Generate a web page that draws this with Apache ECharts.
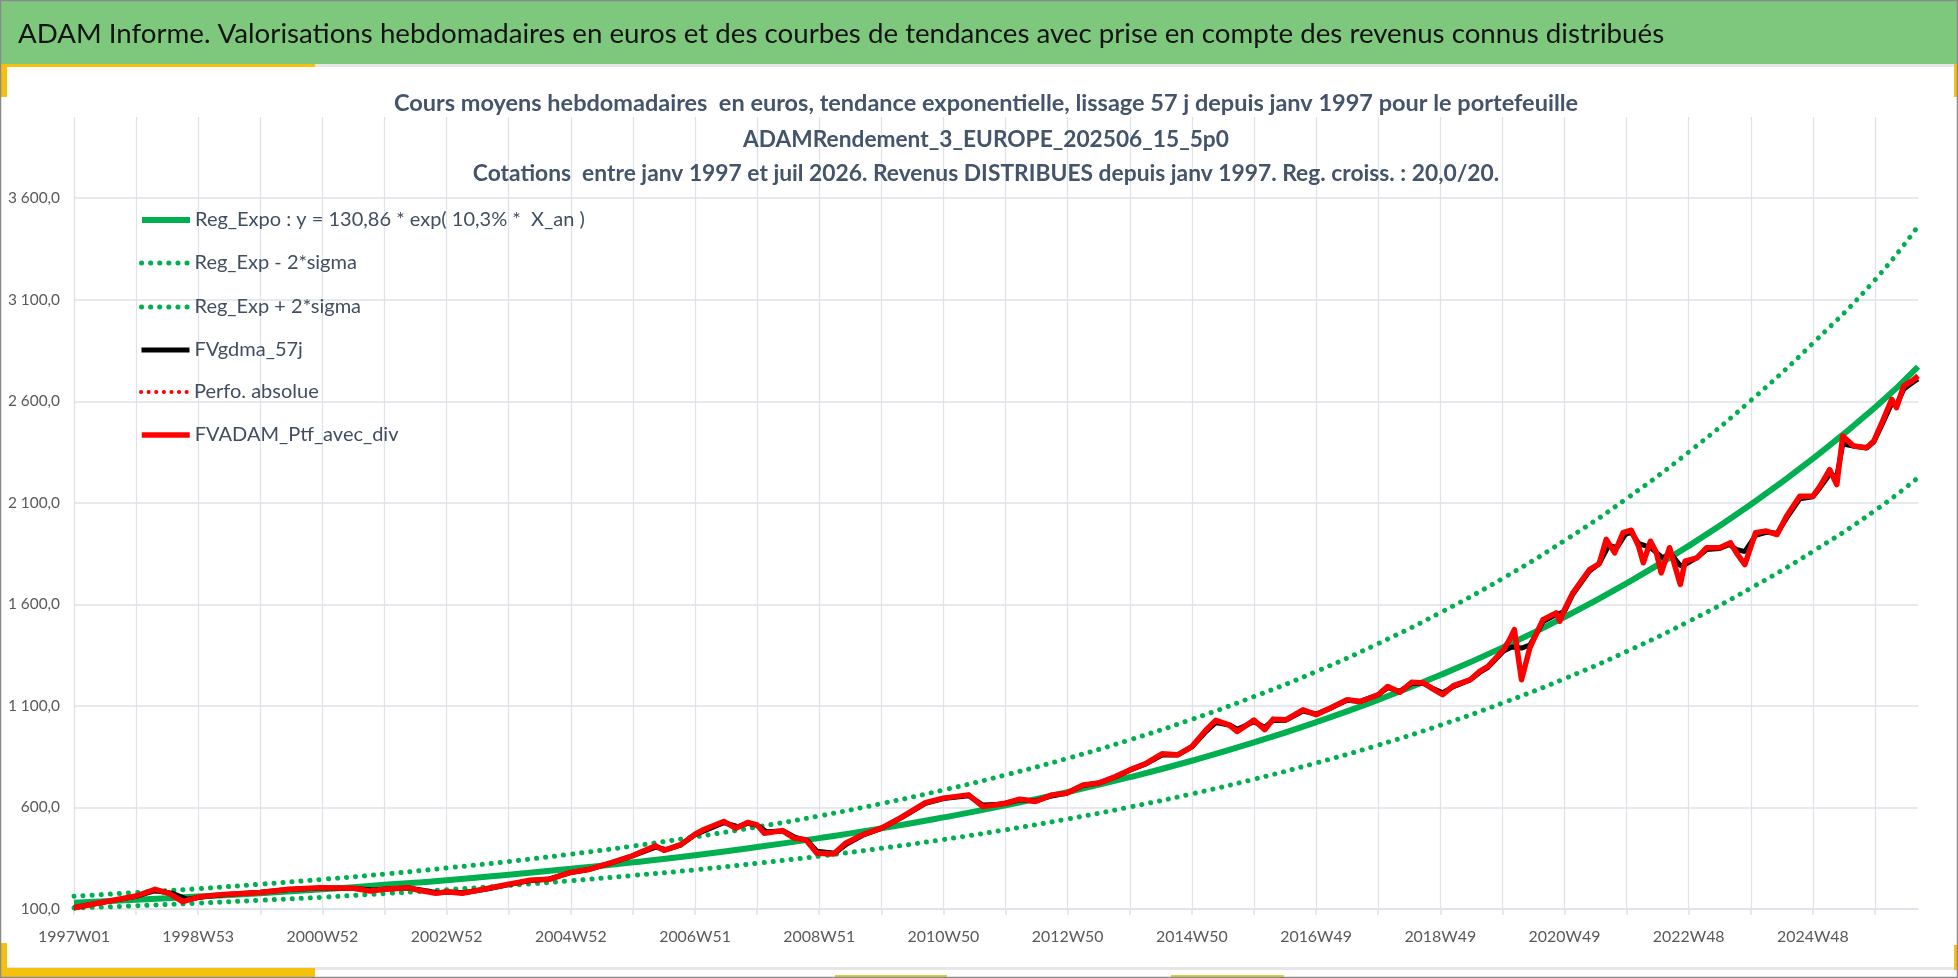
<html>
<head>
<meta charset="utf-8">
<title>ADAM Informe</title>
<script src="https://cdn.jsdelivr.net/npm/echarts@6.0.0/dist/echarts.min.js"></script>
<style>
html,body{margin:0;padding:0;width:100%;height:100%;overflow:hidden;background:#fff;}
#main{position:absolute;left:0;top:0;width:1958px;height:978px;}
</style>
</head>
<body>
<div id="main"></div>
<script type="text/javascript">
// libellés de l'axe des x (une étiquette toutes les 104 semaines)
var weekLabels = ['1997W01', '1998W53', '2000W52', '2002W52', '2004W52', '2006W51', '2008W51',
  '2010W50', '2012W50', '2014W50', '2016W49', '2018W49', '2020W49', '2022W48', '2024W48'];
var lastWeek = 1544;

// tendance exponentielle et bandes +/- 2 sigma (une valeur par an)
var trendWeeks = [0, 52, 104, 156, 208, 260, 312, 364, 416, 468, 520, 572, 624, 676, 728, 780,
  832, 884, 936, 988, 1040, 1092, 1144, 1196, 1248, 1300, 1352, 1404, 1456, 1508, 1544];
var regExpo = [131, 145, 161, 178, 197, 219, 242, 269, 298, 330, 365, 405, 449, 497, 551, 610,
  676, 749, 830, 920, 1020, 1130, 1252, 1387, 1537, 1704, 1888, 2092, 2318, 2569, 2770];
var regMinus = [105, 116, 129, 143, 158, 176, 195, 216, 239, 265, 293, 325, 360, 399, 442, 490,
  543, 602, 667, 739, 819, 907, 1005, 1114, 1234, 1368, 1516, 1680, 1861, 2062, 2224];
var regPlus = [163, 181, 200, 222, 246, 272, 302, 334, 370, 410, 455, 504, 558, 619, 686, 760,
  842, 933, 1034, 1146, 1269, 1407, 1559, 1727, 1914, 2121, 2350, 2604, 2886, 3198, 3462];

// FVADAM_Ptf_avec_div
var ptfWeeks = [0, 22, 52, 68, 80, 91, 104, 125, 156, 180, 207, 234, 248, 260, 279, 289, 303, 312, 325, 347,
  364, 381, 398, 415, 432, 450, 467, 487, 494, 508, 520, 527, 544, 554, 564, 572, 578, 593, 603, 613,
  622, 636, 646, 660, 676, 693, 713, 728, 749, 761, 772, 780, 792, 805, 819, 831, 845, 858, 872, 884,
  898, 911, 924, 936, 948, 956, 967, 974, 988, 997, 1004, 1015, 1029, 1040, 1052, 1066, 1077, 1092, 1100, 1110,
  1120, 1130, 1138, 1146, 1155, 1169, 1177, 1184, 1197, 1202, 1206, 1212, 1219, 1226, 1230, 1241, 1244, 1248, 1255, 1269,
  1277, 1283, 1290, 1297, 1304, 1310, 1314, 1320, 1325, 1329, 1336, 1345, 1349, 1359, 1367, 1378, 1387, 1392, 1399, 1408,
  1417, 1426, 1434, 1445, 1456, 1462, 1470, 1476, 1481, 1490, 1501, 1507, 1515, 1522, 1526, 1532, 1539, 1544];
var ptfValues = [106, 131, 164, 197, 176, 136, 159, 172, 181, 197, 205, 202, 189, 197, 205, 192, 177, 185, 177, 202,
  222, 241, 246, 279, 296, 328, 361, 411, 389, 417, 468, 490, 531, 498, 526, 514, 473, 486, 449, 440,
  375, 371, 424, 465, 498, 552, 624, 646, 662, 604, 613, 621, 641, 629, 662, 670, 711, 720, 752, 785,
  818, 864, 859, 900, 983, 1029, 1007, 974, 1030, 983, 1035, 1032, 1081, 1057, 1090, 1131, 1122, 1155, 1196, 1167,
  1216, 1213, 1183, 1155, 1200, 1229, 1270, 1295, 1377, 1426, 1476, 1229, 1386, 1476, 1525, 1558, 1517, 1574, 1657, 1771,
  1800, 1920, 1854, 1953, 1965, 1887, 1805, 1911, 1854, 1755, 1879, 1698, 1813, 1829, 1879, 1879, 1903, 1854, 1796, 1953,
  1961, 1944, 2035, 2133, 2133, 2182, 2264, 2190, 2429, 2380, 2371, 2404, 2511, 2610, 2569, 2676, 2700, 2725];

// FVgdma_57j (moyenne lissée)
var gdmaWeeks = [0, 26, 52, 68, 82, 95, 110, 130, 156, 180, 208, 235, 250, 262, 280, 292, 304, 315, 326, 347,
  364, 381, 398, 415, 432, 450, 467, 487, 496, 508, 520, 544, 556, 564, 572, 580, 594, 604, 614, 622,
  637, 647, 660, 676, 693, 713, 728, 749, 761, 772, 780, 792, 805, 819, 831, 845, 858, 872, 884, 898,
  911, 924, 936, 948, 956, 968, 974, 988, 997, 1004, 1015, 1029, 1040, 1052, 1066, 1077, 1092, 1100, 1110, 1120,
  1130, 1138, 1146, 1155, 1169, 1177, 1184, 1197, 1204, 1212, 1219, 1226, 1230, 1241, 1248, 1255, 1269, 1277, 1285, 1292,
  1299, 1304, 1310, 1320, 1330, 1337, 1345, 1350, 1359, 1367, 1378, 1386, 1392, 1399, 1408, 1417, 1426, 1434, 1445, 1456,
  1462, 1470, 1476, 1481, 1490, 1501, 1507, 1515, 1522, 1526, 1532, 1539, 1544];
var gdmaValues = [106, 135, 162, 190, 178, 148, 162, 172, 182, 196, 203, 201, 193, 198, 203, 193, 180, 184, 180, 200,
  220, 239, 248, 278, 296, 327, 360, 405, 392, 415, 466, 525, 505, 522, 512, 480, 484, 452, 438, 385,
  375, 420, 462, 497, 550, 620, 644, 658, 612, 614, 621, 638, 632, 658, 670, 708, 720, 750, 783, 816,
  858, 858, 898, 975, 1018, 1005, 985, 1022, 995, 1028, 1030, 1075, 1060, 1088, 1128, 1122, 1155, 1190, 1172, 1210,
  1210, 1185, 1165, 1195, 1228, 1265, 1290, 1370, 1390, 1385, 1400, 1470, 1515, 1550, 1565, 1650, 1765, 1800, 1890, 1880,
  1945, 1955, 1900, 1880, 1830, 1850, 1790, 1800, 1830, 1870, 1875, 1895, 1870, 1860, 1940, 1955, 1950, 2025, 2120, 2130,
  2175, 2240, 2230, 2390, 2380, 2370, 2400, 2500, 2590, 2580, 2660, 2690, 2710];

var seriesNames = ['Reg_Expo : y = 130,86 * exp( 10,3% *  X_an )', 'Reg_Exp - 2*sigma', 'Reg_Exp + 2*sigma',
  'FVgdma_57j', 'Perfo. absolue', 'FVADAM_Ptf_avec_div'];

var bannerText = 'ADAM Informe. Valorisations hebdomadaires en euros et des courbes de tendances avec prise en compte des revenus connus distribués';
var titleLines = [
  'Cours moyens hebdomadaires  en euros, tendance exponentielle, lissage 57 j depuis janv 1997 pour le portefeuille',
  'ADAMRendement_3_EUROPE_202506_15_5p0',
  'Cotations  entre janv 1997 et juil 2026. Revenus DISTRIBUES depuis janv 1997. Reg. croiss. : 20,0/20.'
];
var titleWidths = [1182, 486, 1026];
var legendRows = [220, 263, 307, 350, 392, 435];

var FAMILY = 'Lato, "Liberation Sans", sans-serif';
var GREEN = '#00b050';
var YELLOW = '#f4c20d';
var GRID = '#dfe2e9';

// taille de police donnant la largeur voulue pour un texte
var measureCtx = document.createElement('canvas').getContext('2d');
function fitSize(text, weight, width) {
  measureCtx.font = weight + ' 100px ' + FAMILY;
  return Math.round(100 * width / measureCtx.measureText(text).width * 10) / 10;
}
var bannerSize = fitSize(bannerText, 'normal', 1646);
var legendSize = fitSize('Reg_Exp - 2*sigma', 'normal', 162);
var xLabelSize = fitSize('1997W01', 'normal', 72);
var yLabelSize = fitSize('3 600,0', 'normal', 52);

function pairs(xs, ys) {
  var res = [];
  for (var i = 0; i < xs.length; i++) res.push([xs[i], ys[i]]);
  return res;
}

function frNumber(v) {
  var th = Math.floor(v / 1000);
  var rest = v % 1000;
  var s = th > 0 ? th + ' ' + ('00' + rest).slice(-3) : String(rest);
  return s + ',0';
}

var myChart = echarts.init(document.getElementById('main'));

var graphics = [
  { type: 'rect', z: -10, shape: { x: 0, y: 0, width: 1958, height: 64 }, style: { fill: '#7ec87e' } },
  { type: 'rect', z: -9, shape: { x: 0, y: 64, width: 1958, height: 3 }, style: { fill: '#e4e6ea' } },
  { type: 'rect', z: -8, shape: { x: 0, y: 64, width: 315, height: 3 }, style: { fill: YELLOW } },
  { type: 'rect', z: -8, shape: { x: 0, y: 64, width: 7, height: 33 }, style: { fill: YELLOW } },
  { type: 'rect', z: -8, shape: { x: 1954, y: 64, width: 4, height: 33 }, style: { fill: YELLOW } },
  { type: 'rect', z: -9, shape: { x: 0, y: 967, width: 1958, height: 3 }, style: { fill: '#e4e6ea' } },
  { type: 'rect', z: -8, shape: { x: 0, y: 968, width: 315, height: 9 }, style: { fill: YELLOW } },
  { type: 'rect', z: -8, shape: { x: 0, y: 943, width: 7, height: 34 }, style: { fill: YELLOW } },
  { type: 'rect', z: -8, shape: { x: 1954, y: 945, width: 4, height: 25 }, style: { fill: YELLOW } },
  { type: 'rect', z: -8, shape: { x: 835, y: 975, width: 112, height: 3 }, style: { fill: '#d8d23a' } },
  { type: 'rect', z: -8, shape: { x: 1171, y: 975, width: 113, height: 3 }, style: { fill: '#d8d23a' } },
  { type: 'rect', z: 50, shape: { x: 0.5, y: 0.5, width: 1957, height: 977 }, style: { fill: 'transparent', stroke: '#8a8a8a', lineWidth: 1.5 } },
  { type: 'text', z: 10, style: { x: 18, y: 34, text: bannerText, fill: '#141414',
      font: 'normal ' + bannerSize + 'px ' + FAMILY, textAlign: 'left', textVerticalAlign: 'middle' } }
];
var titleY = [103, 140, 174];
for (var i = 0; i < titleLines.length; i++) {
  graphics.push({ type: 'text', z: 10, style: { x: 986, y: titleY[i], text: titleLines[i], fill: '#44546a',
    font: 'bold ' + fitSize(titleLines[i], 'bold', titleWidths[i]) + 'px ' + FAMILY,
    textAlign: 'center', textVerticalAlign: 'middle' } });
}

// une légende par ligne pour placer chaque entrée comme sur l'original
var legends = [];
for (var j = 0; j < seriesNames.length; j++) {
  legends.push({
    orient: 'vertical',
    left: 139,
    top: legendRows[j] - 10,
    padding: 0,
    itemWidth: 48,
    itemHeight: 20,
    selectedMode: false,
    data: [seriesNames[j]],
    itemStyle: { opacity: 0 },
    lineStyle: { width: 'inherit', type: 'inherit', cap: 'inherit' },
    textStyle: { fontFamily: FAMILY, fontSize: legendSize, lineHeight: 20, color: '#404e60' }
  });
}

var option = {
  animation: false,
  backgroundColor: '#ffffff',
  graphic: graphics,
  grid: { left: 74, right: 40, top: 117, bottom: 69, containLabel: false },
  legend: legends,
  xAxis: {
    type: 'value',
    min: 0,
    max: lastWeek,
    interval: 52,
    axisLine: { show: true, lineStyle: { color: GRID, width: 1.5 } },
    axisTick: { show: true, length: 6, lineStyle: { color: GRID, width: 1.5 } },
    splitLine: { show: true, showMaxLine: false, lineStyle: { color: GRID, width: 1.2 } },
    axisLabel: {
      margin: 20,
      fontFamily: FAMILY,
      fontSize: xLabelSize,
      color: '#595959',
      showMaxLabel: false,
      formatter: function (v) {
        return v % 104 === 0 ? (weekLabels[v / 104] || '') : '';
      }
    }
  },
  yAxis: {
    type: 'value',
    min: 100,
    max: 4000,
    interval: 500,
    axisLine: { show: false },
    axisTick: { show: false },
    splitLine: { show: true, showMaxLine: false, lineStyle: { color: GRID, width: 1.5 } },
    axisLabel: {
      margin: 14,
      fontFamily: FAMILY,
      fontSize: yLabelSize,
      color: '#595959',
      showMaxLabel: false,
      formatter: function (v) { return v > 3600 ? '' : frNumber(v); }
    }
  },
  series: [
    { name: seriesNames[0], type: 'line', symbol: 'none', smooth: true, silent: true,
      lineStyle: { color: GREEN, width: 6 }, itemStyle: { color: GREEN },
      data: pairs(trendWeeks, regExpo) },
    { name: seriesNames[1], type: 'line', symbol: 'none', smooth: true, silent: true,
      lineStyle: { color: GREEN, width: 5, type: [0.1, 9], cap: 'round' }, itemStyle: { color: GREEN },
      data: pairs(trendWeeks, regMinus) },
    { name: seriesNames[2], type: 'line', symbol: 'none', smooth: true, silent: true,
      lineStyle: { color: GREEN, width: 5, type: [0.1, 9], cap: 'round' }, itemStyle: { color: GREEN },
      data: pairs(trendWeeks, regPlus) },
    { name: seriesNames[3], type: 'line', symbol: 'none', silent: true,
      lineStyle: { color: '#000000', width: 5 }, itemStyle: { color: '#000000' },
      data: pairs(gdmaWeeks, gdmaValues) },
    { name: seriesNames[4], type: 'line', symbol: 'none', silent: true,
      lineStyle: { color: '#ff0000', width: 4, type: [0.1, 7.5], cap: 'round' }, itemStyle: { color: '#ff0000' },
      data: [] },
    { name: seriesNames[5], type: 'line', symbol: 'none', silent: true,
      lineStyle: { color: '#ff0000', width: 5.5, join: 'round' }, itemStyle: { color: '#ff0000' },
      data: pairs(ptfWeeks, ptfValues) }
  ]
};

myChart.setOption(option);
</script>
</body>
</html>
